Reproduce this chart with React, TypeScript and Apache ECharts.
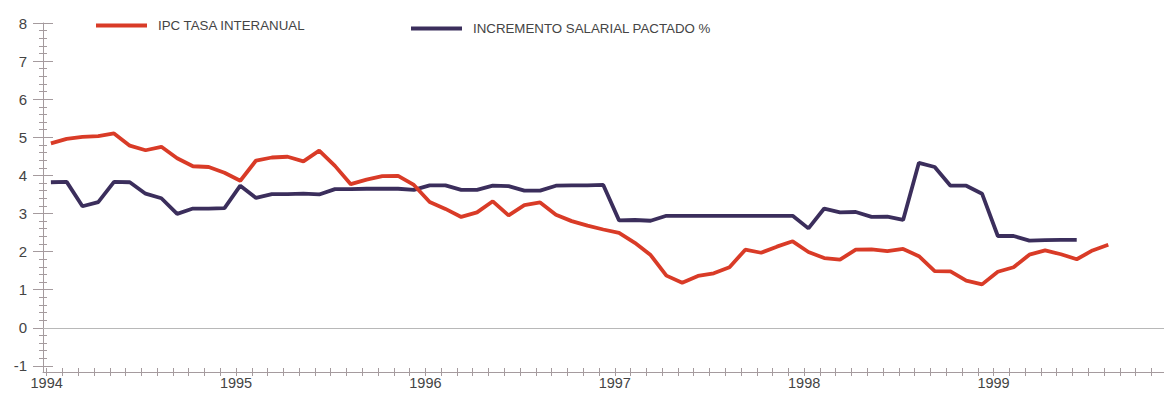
import React, { useEffect, useRef } from 'react';
import * as echarts from 'echarts';

// Monthly values, Jan 1994 onwards
const ipcTasaInteranual: number[] = [
  // 1994
  4.84, 4.96, 5.01, 5.03, 5.1, 4.78, 4.66, 4.75, 4.45, 4.24, 4.22, 4.07,
  // 1995
  3.86, 4.39, 4.47, 4.49, 4.37, 4.65, 4.25, 3.77, 3.89, 3.98, 3.99, 3.75,
  // 1996
  3.3, 3.12, 2.91, 3.03, 3.32, 2.95, 3.22, 3.29, 2.97, 2.8, 2.68, 2.58,
  // 1997
  2.49, 2.23, 1.91, 1.37, 1.18, 1.36, 1.43, 1.59, 2.05, 1.97, 2.13, 2.27,
  // 1998
  1.99, 1.83, 1.79, 2.05, 2.06, 2.01, 2.07, 1.88, 1.49, 1.48, 1.24, 1.14,
  // 1999
  1.47, 1.59, 1.92, 2.03, 1.93, 1.8, 2.03, 2.18,
];

const incrementoSalarial: number[] = [
  // 1994
  3.82, 3.83, 3.19, 3.3, 3.83, 3.82, 3.52, 3.4, 2.99, 3.13, 3.13, 3.14,
  // 1995
  3.73, 3.41, 3.51, 3.51, 3.52, 3.5, 3.64, 3.64, 3.65, 3.65, 3.65, 3.62,
  // 1996
  3.74, 3.74, 3.62, 3.62, 3.73, 3.72, 3.6, 3.6, 3.73, 3.74, 3.74, 3.75,
  // 1997
  2.82, 2.83, 2.81, 2.94, 2.94, 2.94, 2.94, 2.94, 2.94, 2.94, 2.94, 2.94,
  // 1998
  2.61, 3.13, 3.03, 3.04, 2.91, 2.92, 2.83, 4.33, 4.22, 3.73, 3.73, 3.52,
  // 1999
  2.41, 2.41, 2.29, 2.3, 2.31, 2.31,
];

const yearLabels = ['1994', '1995', '1996', '1997', '1998', '1999'];
const yTickValues = [-1, 0, 1, 2, 3, 4, 5, 6, 7, 8];
const seriesNames = ['IPC TASA INTERANUAL', 'INCREMENTO SALARIAL PACTADO %'];

const RED = '#d93b27';
const NAVY = '#3b2e5c';
const AXIS = '#a59b9e';
const TEXT = '#444444';
const FONT = '"Liberation Sans", Arial, Helvetica, sans-serif';

export default function App() {
  const ref = useRef<HTMLDivElement>(null);

  useEffect(() => {
    if (!ref.current) return;
    const chart = echarts.init(ref.current, null, { renderer: 'svg' });

    const monthOffset = 0.27;
    const toPoints = (arr: number[]) => arr.map((v, i) => [i + monthOffset, v]);
    const monthTicks = Array.from({ length: 71 }, (_, i) => i);
    const yearTicks = yearLabels.map((_, i) => i * 12);
    const minorY: number[] = [];
    for (let k = -1; k < 8; k++) {
      for (let j = 1; j < 5; j++) minorY.push(Math.round((k + j * 0.2) * 10) / 10);
    }

    const tickOnlyY = (inside: boolean, values: number[], length: number) => ({
      type: 'value',
      min: -1.16,
      max: 8,
      position: 'left',
      splitLine: { show: false },
      axisLine: { show: false, onZero: false },
      axisLabel: { show: false },
      axisTick: { show: true, inside, customValues: values, length, lineStyle: { color: AXIS } },
    });

    const legendBase = {
      orient: 'horizontal',
      itemWidth: 51,
      itemHeight: 4,
      padding: 0,
      selectedMode: false,
      textStyle: { fontSize: 13.3, color: TEXT, fontFamily: FONT, padding: [0, 0, 0, 6] },
    };

    chart.setOption({
      animation: false,
      backgroundColor: '#ffffff',
      grid: { left: 43, right: 0, top: 23, bottom: 28, containLabel: false, outerBoundsMode: 'none' },
      legend: [
        { ...legendBase, left: 96, top: 19, data: [{ name: seriesNames[0], icon: 'rect' }] },
        { ...legendBase, left: 411, top: 22, data: [{ name: seriesNames[1], icon: 'rect' }] },
      ],
      xAxis: [
        {
          type: 'value',
          min: -0.23,
          max: 70.8,
          position: 'bottom',
          splitLine: { show: false },
          axisLine: { show: true, onZero: false, lineStyle: { color: AXIS, width: 1 } },
          axisTick: { show: true, customValues: monthTicks, length: 4, lineStyle: { color: AXIS } },
          axisLabel: {
            show: true,
            customValues: yearTicks,
            formatter: (v: number) => yearLabels[Math.round(v / 12)] ?? '',
            fontSize: 14.5,
            color: TEXT,
            fontFamily: FONT,
            margin: 3,
          },
        },
        {
          type: 'value',
          min: -0.23,
          max: 70.8,
          position: 'bottom',
          splitLine: { show: false },
          axisLine: { show: false, onZero: false },
          axisLabel: { show: false },
          axisTick: { show: true, inside: true, customValues: monthTicks, length: 4, lineStyle: { color: AXIS } },
        },
      ],
      yAxis: [
        {
          type: 'value',
          min: -1.16,
          max: 8,
          position: 'left',
          splitLine: { show: false },
          axisLine: { show: true, onZero: false, lineStyle: { color: AXIS, width: 1 } },
          axisTick: { show: true, customValues: yTickValues, length: 10, lineStyle: { color: AXIS } },
          axisLabel: {
            show: true,
            customValues: yTickValues,
            fontSize: 15,
            color: TEXT,
            fontFamily: FONT,
            margin: 16,
          },
        },
        tickOnlyY(true, yTickValues, 10),
        tickOnlyY(false, minorY, 4),
        tickOnlyY(true, minorY, 4),
      ],
      series: [
        {
          name: seriesNames[0],
          type: 'line',
          xAxisIndex: 0,
          yAxisIndex: 0,
          data: toPoints(ipcTasaInteranual),
          showSymbol: false,
          symbol: 'none',
          color: RED,
          lineStyle: { color: RED, width: 3.8 },
          z: 3,
          markLine: {
            silent: true,
            symbol: ['none', 'none'],
            label: { show: false },
            lineStyle: { color: '#b8b8b8', width: 1, type: 'solid' },
            data: [{ yAxis: 0 }],
            z: 1,
          },
        },
        {
          name: seriesNames[1],
          type: 'line',
          xAxisIndex: 0,
          yAxisIndex: 0,
          data: toPoints(incrementoSalarial),
          showSymbol: false,
          symbol: 'none',
          color: NAVY,
          lineStyle: { color: NAVY, width: 3.8 },
          z: 2,
        },
      ],
    });

    return () => {
      chart.dispose();
    };
  }, []);

  return (
    <div
      ref={ref}
      style={{ position: 'absolute', left: 0, top: 0, width: 1164, height: 400, background: '#fff' }}
    />
  );
}
